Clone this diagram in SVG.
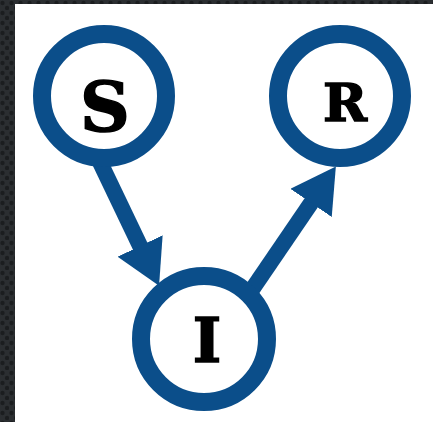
<svg xmlns="http://www.w3.org/2000/svg" width="433" height="422" viewBox="0 0 433 422">
  <defs>
    <pattern id="dots" width="9" height="10" patternUnits="userSpaceOnUse">
      <rect width="9" height="10" fill="#2b2e31"/>
      <circle cx="2.5" cy="3" r="2.2" fill="#1b1d1f"/>
      <circle cx="7" cy="8" r="2.2" fill="#1b1d1f"/>
    </pattern>
    <marker id="head" markerUnits="userSpaceOnUse" viewBox="0 0 44 50" markerWidth="44" markerHeight="50" refX="10" refY="25" orient="auto">
      <path d="M0,0 L44,25 L0,50 Z" fill="#0b4e8a"/>
    </marker>
  </defs>
  <style>
    .node circle { fill: #ffffff; stroke: #0b4e8a; stroke-width: 18; }
    .node text { font-family: "DejaVu Serif", "Liberation Serif", serif; font-weight: bold; fill: #000000; stroke: #000000; stroke-width: 1.5; text-anchor: middle; }
    .edge { stroke: #0b4e8a; stroke-width: 16; fill: none; marker-end: url(#head); }
  </style>
  <rect x="0" y="0" width="433" height="422" fill="url(#dots)"/>
  <rect x="15" y="4" width="418" height="418" fill="#ffffff"/>
  <g id="connectors">
    <line class="edge" x1="98" y1="158" x2="144.4" y2="255"/>
    <line class="edge" x1="249" y1="294" x2="316.7" y2="194.7"/>
  </g>
  <g id="node-S" class="node">
    <circle cx="104" cy="96" r="62"/>
    <text x="105" y="131" font-size="69">S</text>
  </g>
  <g id="node-R" class="node">
    <circle cx="340" cy="96" r="62"/>
    <text x="345" y="121" font-size="53">R</text>
  </g>
  <g id="node-I" class="node">
    <circle cx="204" cy="339" r="63"/>
    <text x="207" y="362" font-size="61">I</text>
  </g>
</svg>
